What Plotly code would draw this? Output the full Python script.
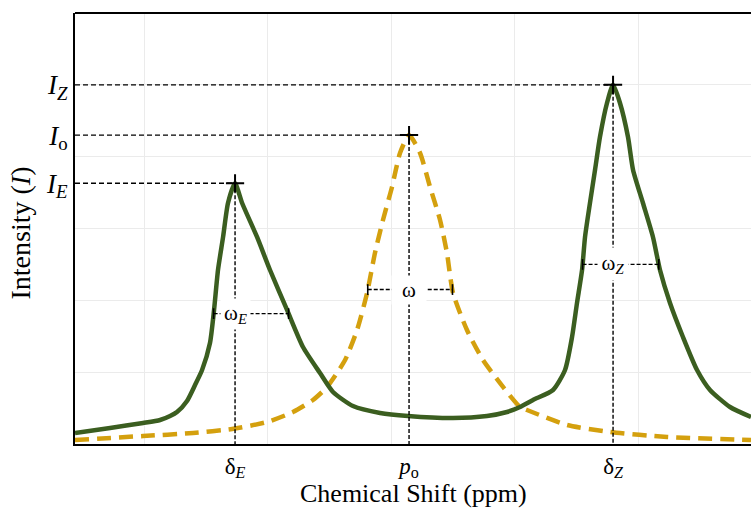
import numpy as np
import plotly.graph_objects as go

# ---------------- data (chemical shift in arbitrary ppm units, intensity) ----------------
obs_shift = [0.441, 0.725, 0.992, 1.130, 1.211, 1.267, 1.348, 1.413, 1.470, 1.534, 1.567, 1.599,
             1.640, 1.680, 1.737, 1.794, 1.915, 2.020, 2.158, 2.287, 2.425, 2.530, 2.692, 2.911,
             3.138, 3.502, 3.777, 3.939, 4.045, 4.150, 4.312, 4.409, 4.466, 4.506, 4.547, 4.571,
             4.611, 4.652, 4.692, 4.749, 4.798, 4.854, 4.919, 4.960, 5.040, 5.121, 5.178, 5.259,
             5.364, 5.478, 5.583, 5.745, 5.915]
obs_int = [0.153, 0.223, 0.292, 0.334, 0.390, 0.445, 0.599, 0.821, 1.030, 1.406, 1.866, 2.422,
           2.882, 3.355, 3.630, 3.355, 2.882, 2.422, 1.866, 1.350, 0.988, 0.724, 0.529, 0.432,
           0.390, 0.362, 0.390, 0.445, 0.515, 0.613, 0.752, 1.030, 1.490, 1.963, 2.422, 2.882,
           3.355, 3.815, 4.274, 4.747, 5.000, 4.747, 4.274, 3.815, 3.355, 2.882, 2.422, 1.963,
           1.490, 1.030, 0.752, 0.515, 0.376]

ref_shift = [0.441, 0.992, 1.397, 1.713, 1.996, 2.206, 2.368, 2.482, 2.628, 2.725, 2.806, 2.870,
             2.935, 3.008, 3.073, 3.146, 3.235, 3.316, 3.397, 3.453, 3.502, 3.615, 3.745, 3.907,
             4.045, 4.101, 4.425, 4.773, 5.235, 5.915]
ref_int = [0.056, 0.111, 0.153, 0.209, 0.306, 0.445, 0.613, 0.794, 1.169, 1.587, 2.102, 2.659,
           3.118, 3.578, 4.051, 4.300, 4.051, 3.578, 3.118, 2.659, 2.102, 1.587, 1.169, 0.794,
           0.515, 0.473, 0.265, 0.167, 0.097, 0.056]

y_tick_labels = ["<i>I</i><sub><i>E</i></sub>", "<i>I</i><sub>o</sub>", "<i>I</i><sub><i>Z</i></sub>"]
x_tick_labels = ["δ<sub><i>E</i></sub>", "<i>p</i><sub>o</sub>", "δ<sub><i>Z</i></sub>"]
width_labels = ["ω<sub><i>E</i></sub>", "ω", "ω<sub><i>Z</i></sub>"]
x_title = "Chemical Shift (ppm)"
y_title = "Intensity (<i>I</i>)"

x_range = [0.441, 5.915]
y_range = [0, 6]

# ---------------- helpers ----------------
ox, oy = np.array(obs_shift), np.array(obs_int)
rx, ry = np.array(ref_shift), np.array(ref_int)

def peak_and_half(xs, ys, mask):
    idx = np.where(mask)[0]
    i = idx[np.argmax(ys[idx])]
    h = ys[i] / 2.0
    j = i
    while ys[j] > h:
        j -= 1
    xl = np.interp(h, [ys[j], ys[j + 1]], [xs[j], xs[j + 1]])
    k = i
    while ys[k] > h:
        k += 1
    xr = np.interp(h, [ys[k], ys[k - 1]], [xs[k], xs[k - 1]])
    return xs[i], ys[i], h, xl, xr

pE = peak_and_half(ox, oy, ox < 3.0)
pO = peak_and_half(rx, ry, rx > 0)
pZ = peak_and_half(ox, oy, ox > 3.0)
peaks = [pE, pO, pZ]

GREEN = "#3B5E20"
GOLD = "#D4A00E"
FONT = "Liberation Serif"

fig = go.Figure()
fig.add_trace(go.Scatter(x=ref_shift, y=ref_int, mode="lines",
                         line=dict(color=GOLD, width=4.5, dash="14px,8px", shape="spline", smoothing=0.6),
                         hoverinfo="skip", showlegend=False))
fig.add_trace(go.Scatter(x=obs_shift, y=obs_int, mode="lines",
                         line=dict(color=GREEN, width=4.5, shape="spline", smoothing=0.6),
                         hoverinfo="skip", showlegend=False))

shapes = []
dline = dict(color="black", width=1.4, dash="5px,3px")
cap = 0.075
for (px, py, h, xl, xr) in peaks:
    shapes.append(dict(type="line", xref="x", yref="y", x0=x_range[0], x1=px, y0=py, y1=py, line=dline))
    shapes.append(dict(type="line", xref="x", yref="y", x0=px, x1=px, y0=py, y1=0,
                       line=dict(color="black", width=1.4, dash="4px,2px")))
    shapes.append(dict(type="line", xref="x", yref="y", x0=xl, x1=xr, y0=h, y1=h,
                       line=dict(color="black", width=1.4, dash="4px,2px")))
    for xe in (xl, xr):
        shapes.append(dict(type="line", xref="x", yref="y", x0=xe, x1=xe, y0=h - cap, y1=h + cap,
                           line=dict(color="black", width=1.6)))
shapes.append(dict(type="line", xref="paper", yref="paper", x0=0, x1=1, y0=1, y1=1,
                   line=dict(color="black", width=2)))

fig.add_trace(go.Scatter(x=[p[0] for p in peaks], y=[p[1] for p in peaks], mode="markers",
                         marker=dict(symbol="cross-thin", size=13, line=dict(color="black", width=2)),
                         hoverinfo="skip", showlegend=False))

annotations = []
boxes = [(29, 30), (34, 28), (30, 32)]
for (px, py, h, xl, xr), lab, (bw, bh) in zip(peaks, width_labels, boxes):
    annotations.append(dict(x=px, y=h, xref="x", yref="y", text=lab, showarrow=False,
                            font=dict(family=FONT, size=21, color="black"),
                            bgcolor="white", width=bw, height=bh, align="center", borderpad=0))
# axis titles
annotations.append(dict(x=0.5, y=0, xref="paper", yref="paper", xanchor="center", yanchor="bottom",
                        yshift=-65, text=x_title, showarrow=False, borderpad=0,
                        font=dict(family=FONT, size=26, color="black")))
annotations.append(dict(x=0, y=0.5, xref="paper", yref="paper", xanchor="center", yanchor="middle",
                        xshift=-55, yshift=-5, textangle=-90, text=y_title, showarrow=False,
                        font=dict(family=FONT, size=28, color="black")))

fig.update_layout(
    width=751, height=508,
    margin=dict(l=75, r=0, t=13, b=64),
    paper_bgcolor="white", plot_bgcolor="white",
    shapes=shapes, annotations=annotations,
    font=dict(family=FONT, color="black"),
    xaxis=dict(range=x_range, tickmode="array", tickvals=[p[0] for p in peaks], ticktext=x_tick_labels,
               showgrid=False, zeroline=False, showline=True, linecolor="black", linewidth=2,
               ticks="", tickfont=dict(family=FONT, size=23, color="black"),
               minor=dict(tickmode="linear", tick0=0, dtick=1, showgrid=True, gridcolor="#ebebeb", gridwidth=1, ticks=""),
               automargin=False),
    yaxis=dict(range=y_range, tickmode="array", tickvals=[p[1] for p in peaks], ticktext=y_tick_labels,
               showgrid=False, zeroline=False, showline=True, linecolor="black", linewidth=2,
               ticks="", tickfont=dict(family=FONT, size=27, color="black"),
               minor=dict(tickmode="linear", tick0=0, dtick=1, showgrid=True, gridcolor="#ebebeb", gridwidth=1, ticks=""),
               automargin=False),
)

fig.write_html("out.html")
